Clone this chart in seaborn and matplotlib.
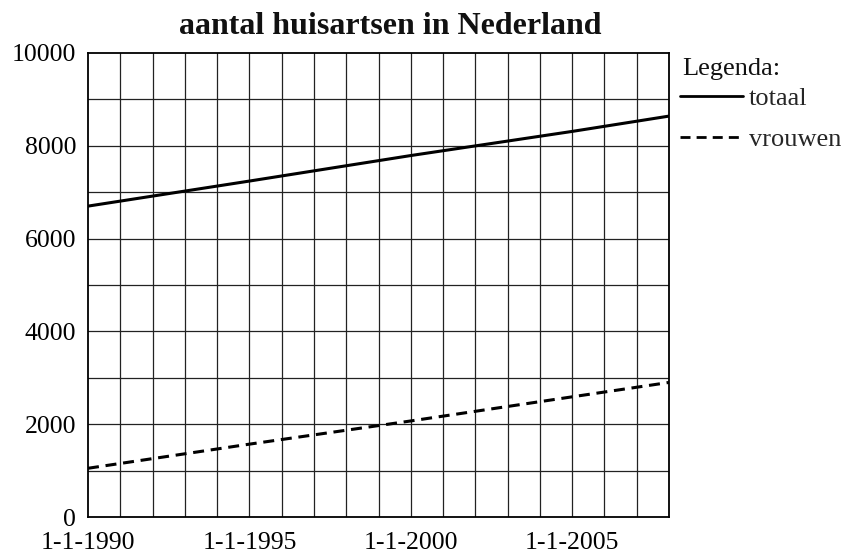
import matplotlib
matplotlib.use("Agg")
import matplotlib.pyplot as plt
import seaborn as sns
import pandas as pd

years = [1990, 1995, 2000, 2005, 2008]
totaal = [6700, 7240, 7790, 8310, 8640]
vrouwen = [1050, 1570, 2070, 2590, 2900]
xtick_years = [1990, 1995, 2000, 2005]
xtick_labels = ["1-1-1990", "1-1-1995", "1-1-2000", "1-1-2005"]
ytick_values = [0, 2000, 4000, 6000, 8000, 10000]

df = pd.DataFrame({
    "jaar": years * 2,
    "aantal": totaal + vrouwen,
    "reeks": ["totaal"] * len(years) + ["vrouwen"] * len(years),
})

sns.set_style("white")
plt.rcParams["font.family"] = ["Liberation Serif", "DejaVu Serif"]

fig = plt.figure(figsize=(8.48, 5.56), dpi=100)
ax = fig.add_axes([88 / 848, 1 - 517 / 556, (669 - 88) / 848, (517 - 53) / 556])

sns.lineplot(data=df, x="jaar", y="aantal", style="reeks", color="black",
             dashes={"totaal": "", "vrouwen": (3.6, 2.2)}, linewidth=2.2, ax=ax)

ax.set_xlim(1990, 2008)
ax.set_ylim(0, 10000)
for yr in range(1991, 2008):
    ax.axvline(yr, color="#222222", linewidth=0.9, zorder=0)
for v in range(1000, 10000, 1000):
    ax.axhline(v, color="#222222", linewidth=0.9, zorder=0)

ax.set_xticks(xtick_years)
ax.set_xticklabels(xtick_labels)
ax.set_yticks(ytick_values)
ax.tick_params(direction="inout", length=11, width=1.5, labelsize=18.5, colors="black")
ax.tick_params(axis="x", pad=5)
ax.tick_params(axis="y", pad=3)
for s in ax.spines.values():
    s.set_color("black")
    s.set_linewidth(1.3)
ax.set_xlabel("")
ax.set_ylabel("")
ax.set_title("aantal huisartsen in Nederland", fontsize=23, fontweight="bold",
             pad=14, x=0.52, color="#111111")

fig.text(682 / 848, 1 - 75 / 556, "Legenda:", fontsize=19, va="baseline", ha="left",
         color="#111111")
leg = ax.legend(loc="upper left", bbox_to_anchor=(680 / 848, 1 - 87 / 556),
                bbox_transform=fig.transFigure, frameon=False, fontsize=19,
                handlelength=2.4, handletextpad=0.2,
                labelspacing=0.66, borderpad=0, borderaxespad=0)
for line in leg.get_lines():
    line.set_linewidth(2.0)

fig.savefig("out.png", dpi=100)
